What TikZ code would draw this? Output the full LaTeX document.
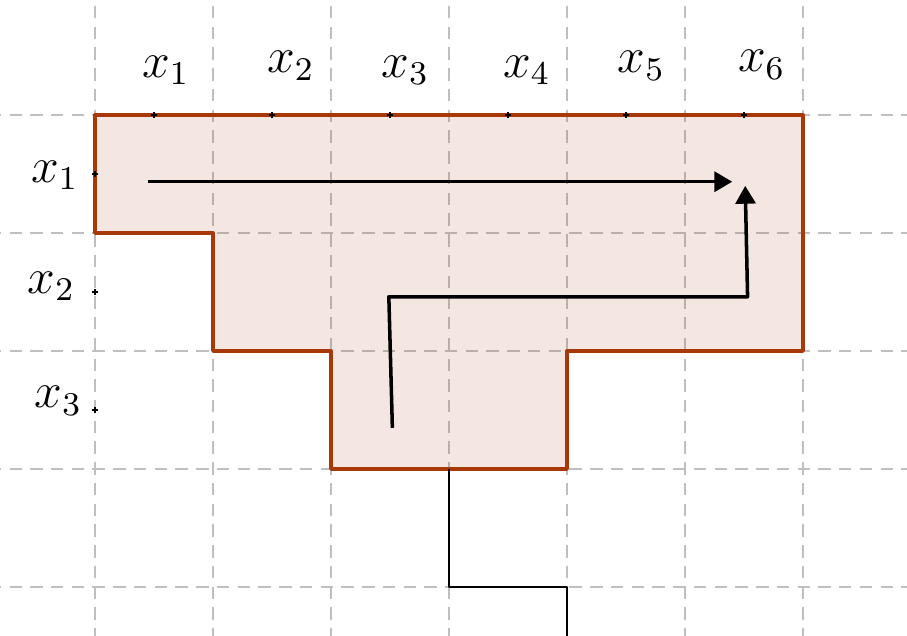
\documentclass[tikz,border=0pt]{standalone}
\usepackage{amsmath}
\usepackage{tikz}
\usetikzlibrary{arrows.meta}
\definecolor{rust}{RGB}{168,56,8}

\begin{document}
\begin{tikzpicture}[line join=round,
  griddash/.style={black!25, line width=0.65pt, dash pattern=on 3pt off 2pt},
  regionedge/.style={rust, line width=0.85pt},
  walk/.style={line width=0.85pt, -{Triangle[length=4.3pt,width=4.8pt]}},
  trail/.style={line width=0.5pt},
  tickmark/.style={line width=0.3pt},
  lbl/.style={font=\large, anchor=base, inner sep=0pt}]

\useasboundingbox (-0.805,-4.407) rectangle (6.881,0.975);
\clip (-0.805,-4.407) rectangle (6.881,0.975);

\foreach \i in {0,...,6}
  \draw[griddash] (\i,1.1) -- (\i,-4.5);
\foreach \j in {0,...,4}
  \draw[griddash] (-0.9,-\j) -- (7,-\j);

\fill[rust, fill opacity=0.12] (0,0) -- (6,0) -- (6,-2) -- (4,-2) -- (4,-3) -- (2,-3)
  -- (2,-2) -- (1,-2) -- (1,-1) -- (0,-1) -- cycle;
\draw[regionedge] (0,0) -- (6,0) -- (6,-2) -- (4,-2) -- (4,-3) -- (2,-3)
  -- (2,-2) -- (1,-2) -- (1,-1) -- (0,-1) -- cycle;

\foreach \i in {0.5,1.5,...,5.5}
  \draw[tickmark] (\i,-0.025) -- (\i,0.025) (\i-0.025,0) -- (\i+0.025,0);
\foreach \j in {0.5,1.5,2.5}
  \draw[tickmark] (-0.025,-\j) -- (0.025,-\j) (0,-\j-0.025) -- (0,-\j+0.025);

\foreach \i/\xx/\yy in {1/0.60/0.32, 2/1.66/0.36, 3/2.63/0.32, 4/3.66/0.32, 5/4.63/0.36, 6/5.65/0.365}
  \node[lbl] (top\i) at (\xx,\yy) {$x_{\i}$};

\node[lbl] (side1) at (-0.34,-0.57) {$x_1$};
\node[lbl] (side2) at (-0.37,-1.51) {$x_2$};
\node[lbl] (side3) at (-0.31,-2.48) {$x_3$};

\coordinate (a1) at (0.45,-0.565);
\coordinate (a2) at (5.40,-0.565);
\draw[walk] (a1) -- (a2);

\coordinate (b1) at (2.52,-2.65);
\coordinate (b2) at (2.49,-1.54);
\coordinate (b3) at (5.53,-1.54);
\coordinate (b4) at (5.51,-0.60);
\draw[walk] (b1) -- (b2) -- (b3) -- (b4);

\coordinate (c1) at (3,-3);
\coordinate (c2) at (3,-4);
\coordinate (c3) at (4,-4);
\coordinate (c4) at (4,-4.6);
\draw[trail] (c1) -- (c2) -- (c3) -- (c4);

\end{tikzpicture}
\end{document}
